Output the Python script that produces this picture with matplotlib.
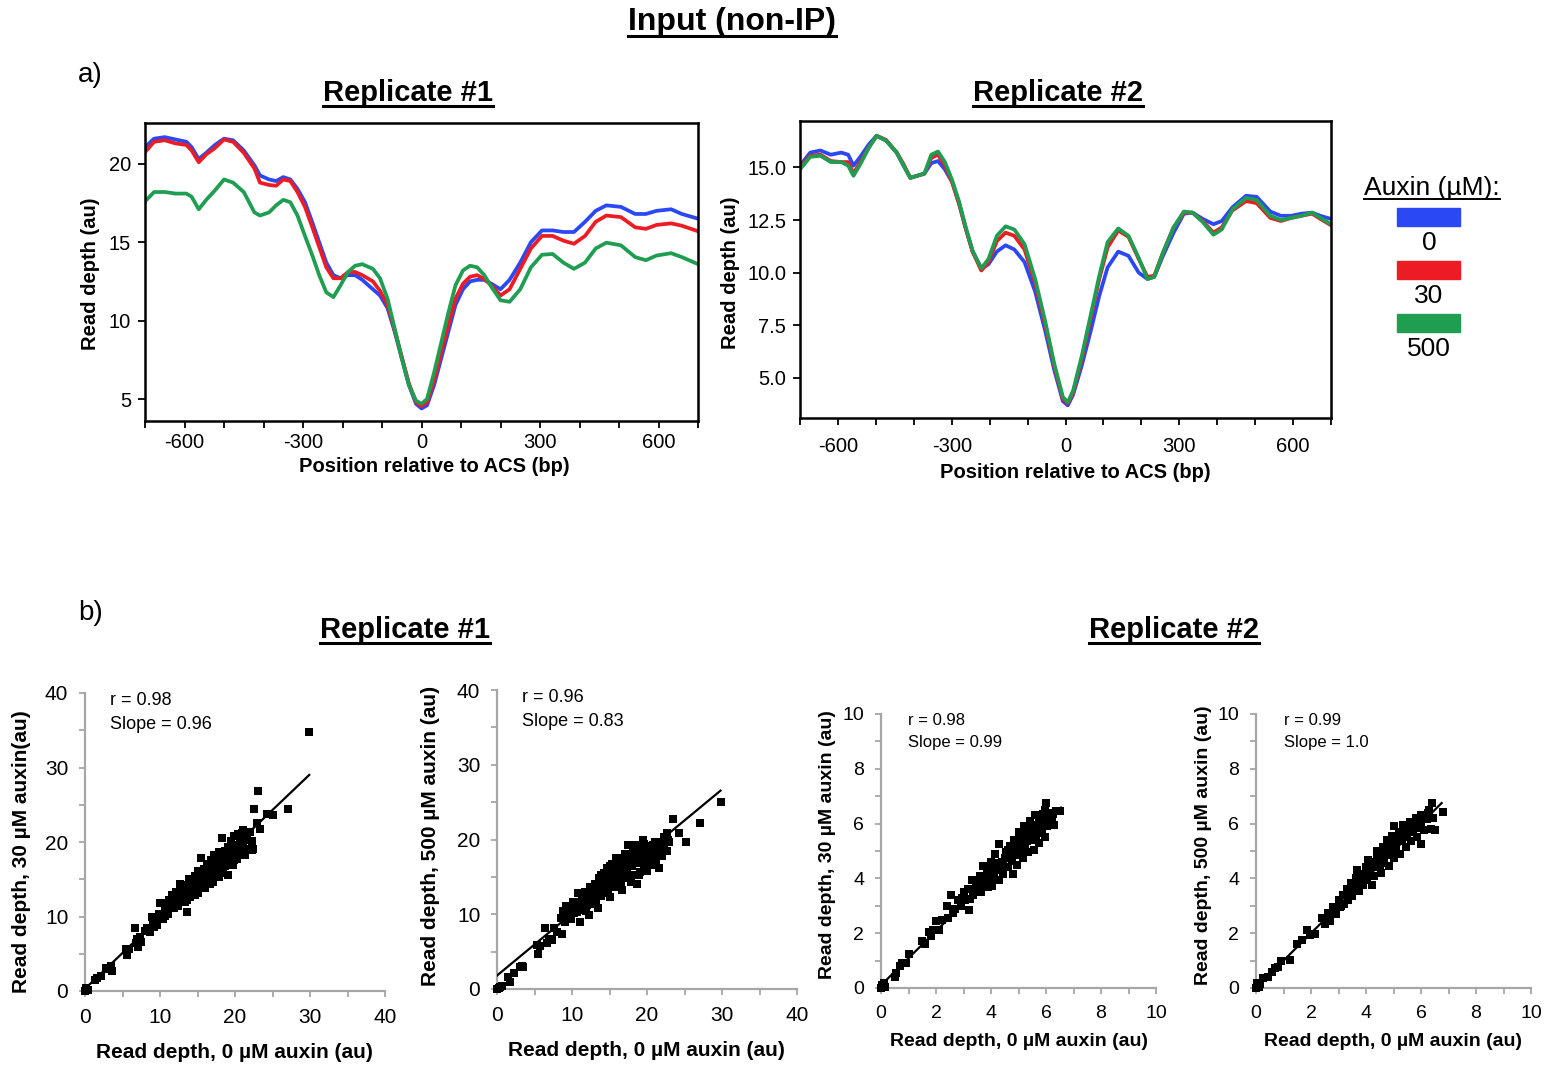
import numpy as np
import matplotlib
matplotlib.use("Agg")
import matplotlib.pyplot as plt
from matplotlib.lines import Line2D
from matplotlib.patches import Rectangle
from matplotlib.ticker import FormatStrFormatter, MultipleLocator

plt.rcParams["font.family"] = ["Liberation Sans", "DejaVu Sans"]
plt.rcParams["axes.unicode_minus"] = False

W, H = 1557, 1066

BLUE = "#2b48f5"
RED = "#ec1c24"
GREEN = "#1f9e52"
AUXIN_LEVELS = ["0", "30", "500"]

# ---- a) average input read depth around the ACS ----
REP1_POS = [-700, -677, -650, -623, -595, -582, -564, -545, -523, -500,
            -477, -450, -423, -409, -386, -368, -350, -332, -314, -295,
            -277, -259, -241, -223, -205, -186, -168, -150, -123, -105,
            -86, -68, -50, -32, -14, 0, 14, 32, 50, 68,
            86, 105, 123, 141, 159, 177, 200, 223, 250, 277,
            305, 332, 359, 386, 414, 441, 468, 505, 541, 568,
            595, 632, 659, 700]
REP1_0 = [21.06, 21.6, 21.7, 21.55, 21.4, 21.06, 20.3, 20.7, 21.2, 21.6,
          21.5, 20.85, 19.9, 19.26, 19.0, 18.9, 19.15, 19.0, 18.4, 17.55,
          16.3, 15.0, 13.7, 12.9, 12.7, 12.9, 12.9, 12.6, 12.0, 11.6,
          10.8, 9.3, 7.6, 5.9, 4.7, 4.4, 4.6, 5.9, 7.6, 9.3,
          11.0, 12.0, 12.5, 12.6, 12.6, 12.35, 12.0, 12.6, 13.7, 15.0,
          15.75, 15.75, 15.65, 15.65, 16.3, 17.0, 17.35, 17.25, 16.8, 16.8,
          17.0, 17.1, 16.8, 16.5]
REP1_30 = [20.74, 21.4, 21.5, 21.3, 21.2, 20.85, 20.1, 20.6, 21.0, 21.55,
           21.4, 20.7, 19.7, 18.8, 18.65, 18.6, 19.0, 18.9, 18.2, 17.25,
           16.0, 14.7, 13.4, 12.7, 12.7, 13.1, 13.1, 12.9, 12.5, 11.9,
           11.0, 9.4, 7.7, 6.0, 4.8, 4.55, 4.8, 6.2, 8.0, 9.7,
           11.4, 12.35, 12.8, 12.9, 12.65, 12.25, 11.6, 12.0, 13.3, 14.6,
           15.4, 15.4, 15.1, 14.9, 15.4, 16.3, 16.7, 16.6, 15.95, 15.85,
           16.1, 16.2, 16.05, 15.7]
REP1_500 = [17.6, 18.2, 18.2, 18.1, 18.1, 17.9, 17.1, 17.7, 18.3, 19.0,
            18.8, 18.2, 16.9, 16.7, 16.9, 17.35, 17.7, 17.55, 16.7, 15.4,
            14.2, 12.9, 11.8, 11.5, 12.25, 13.1, 13.5, 13.6, 13.3, 12.7,
            11.4, 9.5, 7.6, 5.9, 4.9, 4.7, 5.0, 6.7, 8.6, 10.5,
            12.25, 13.2, 13.5, 13.4, 12.9, 12.15, 11.3, 11.2, 12.0, 13.4,
            14.2, 14.25, 13.7, 13.3, 13.7, 14.6, 14.97, 14.8, 14.05, 13.85,
            14.15, 14.3, 14.05, 13.6]

REP2_POS = [-700, -673, -646, -619, -591, -573, -559, -541, -518, -498,
            -473, -445, -427, -409, -391, -372, -354, -336, -318, -299,
            -281, -263, -245, -222, -203, -181, -158, -135, -108, -80,
            -53, -30, -7, 6, 20, 43, 66, 89, 111, 139,
            166, 193, 216, 234, 257, 285, 312, 335, 362, 390,
            412, 440, 476, 504, 540, 568, 595, 622, 650, 672,
            700]
REP2_0 = [15.08, 15.7, 15.8, 15.6, 15.7, 15.6, 15.08, 15.5, 16.1, 16.5,
          16.27, 15.7, 15.08, 14.5, 14.6, 14.7, 15.2, 15.3, 14.9, 14.3,
          13.3, 12.1, 11.0, 10.2, 10.4, 11.0, 11.3, 11.1, 10.5, 9.1,
          7.2, 5.4, 3.9, 3.7, 4.2, 5.6, 7.2, 8.9, 10.25, 11.0,
          10.8, 10.0, 9.7, 9.8, 10.8, 11.9, 12.8, 12.85, 12.55, 12.3,
          12.45, 13.1, 13.65, 13.6, 12.9, 12.7, 12.7, 12.8, 12.85, 12.7,
          12.55]
REP2_30 = [15.0, 15.55, 15.6, 15.3, 15.25, 15.25, 14.7, 15.25, 15.95, 16.5,
           16.3, 15.7, 15.15, 14.5, 14.6, 14.7, 15.45, 15.6, 15.08, 14.3,
           13.3, 12.1, 11.0, 10.1, 10.5, 11.5, 11.9, 11.75, 11.1, 9.5,
           7.5, 5.6, 4.0, 3.8, 4.3, 5.9, 7.8, 9.7, 11.2, 12.0,
           11.7, 10.65, 9.8, 9.85, 10.95, 12.15, 12.85, 12.85, 12.45, 11.9,
           12.15, 12.95, 13.4, 13.3, 12.6, 12.45, 12.6, 12.7, 12.8, 12.55,
           12.25]
REP2_500 = [14.9, 15.5, 15.55, 15.25, 15.25, 15.08, 14.6, 15.15, 15.95, 16.5,
            16.27, 15.7, 15.08, 14.5, 14.6, 14.7, 15.6, 15.75, 15.25, 14.4,
            13.4, 12.15, 11.05, 10.2, 10.65, 11.75, 12.2, 12.05, 11.35, 9.7,
            7.65, 5.7, 4.1, 3.85, 4.4, 6.05, 7.95, 9.85, 11.45, 12.1,
            11.75, 10.7, 9.7, 9.8, 10.95, 12.15, 12.9, 12.85, 12.4, 11.8,
            12.05, 13.0, 13.55, 13.45, 12.7, 12.5, 12.6, 12.7, 12.85, 12.6,
            12.3]

# ---- b) per-region read depth, 0 uM vs treated ----
REP1_0_VS_30 = [
    (0.0, 0.0), (0.2, 0.2), (0.4, 0.1), (0.1, 0.4), (1.3, 1.5), (1.6, 1.8), (2.1, 2.0),
    (2.8, 3.1), (3.1, 2.9), (3.4, 3.3), (3.6, 2.7), (5.4, 5.6), (5.6, 4.8), (5.9, 5.7),
    (6.6, 8.4), (6.8, 6.4), (6.9, 7.0), (7.1, 5.9), (7.3, 7.2), (7.5, 6.6), (8.0, 8.1),
    (8.3, 8.5), (8.6, 7.9), (8.9, 9.9), (9.0, 9.0), (9.2, 8.6), (9.5, 9.5), (9.8, 10.3),
    (10.0, 11.8), (10.2, 10.0), (10.4, 9.6), (10.6, 10.8), (10.9, 11.3), (11.0, 10.3),
    (11.2, 12.2), (11.4, 11.6), (11.6, 12.9), (11.8, 11.2), (12.0, 12.4), (12.1, 13.3),
    (12.3, 11.8), (12.5, 12.7), (12.6, 14.4), (12.8, 12.1), (13.0, 13.6), (13.1, 12.8),
    (13.3, 11.9), (13.4, 14.2), (13.6, 10.6), (13.7, 13.1), (13.8, 15.0), (14.0, 12.6),
    (14.1, 13.8), (14.3, 14.6), (14.4, 12.9), (14.6, 15.4), (14.7, 13.5), (14.9, 14.2),
    (15.0, 16.1), (15.1, 13.1), (15.3, 15.0), (15.4, 14.0), (15.5, 17.8), (15.6, 15.7),
    (15.8, 14.5), (15.9, 16.4), (16.0, 13.8), (16.2, 15.2), (16.3, 17.0), (16.4, 14.7),
    (16.6, 16.0), (16.7, 15.1), (16.8, 17.6), (17.0, 16.5), (17.1, 14.6), (17.2, 18.2),
    (17.4, 15.6), (17.5, 16.9), (17.7, 17.6), (17.8, 15.3), (17.9, 18.6), (18.0, 16.3),
    (18.2, 17.3), (18.3, 20.5), (18.4, 15.8), (18.6, 18.8), (18.7, 16.8), (18.9, 17.8),
    (19.0, 19.3), (19.1, 15.6), (19.3, 17.2), (19.4, 20.1), (19.6, 18.3), (19.7, 16.9),
    (19.9, 20.8), (20.0, 19.1), (20.2, 17.7), (20.4, 21.1), (20.5, 19.6), (20.6, 18.4),
    (20.8, 20.4), (21.0, 21.6), (21.1, 19.3), (21.3, 18.2), (21.5, 20.7), (21.7, 19.0),
    (22.0, 21.4), (22.3, 18.9), (22.4, 19.0), (22.5, 24.4), (23.0, 26.9), (22.9, 22.6),
    (23.3, 21.8), (24.2, 23.7), (25.0, 23.6), (27.1, 24.4), (29.9, 34.7),
    (11.5, 11.9), (11.9, 12.0), (12.2, 12.6), (12.7, 12.2), (12.9, 13.1), (13.2, 12.5),
    (13.5, 13.4), (13.9, 13.3), (14.2, 13.4), (14.5, 14.0), (14.8, 14.6), (15.2, 14.4),
    (15.5, 15.2), (15.7, 14.6), (16.1, 15.6), (16.5, 15.6), (16.9, 16.0), (17.3, 16.3),
    (17.6, 16.1), (18.1, 17.8), (18.5, 17.0), (18.8, 18.2), (19.2, 18.6), (19.5, 17.6),
    (19.8, 19.5), (20.3, 18.9), (20.7, 19.9), (21.2, 20.3), (21.6, 21.0), (22.2, 20.2),
    (12.4, 11.4), (13.6, 12.2), (14.6, 12.9), (15.8, 15.8), (16.6, 14.3), (17.6, 17.1),
    (18.4, 18.3), (19.8, 17.6), (21.0, 18.7), (20.9, 21.2), (10.8, 11.8), (11.1, 10.9),
    (9.6, 8.9), (10.6, 10.1),
]
REP1_0_VS_500 = [
    (0.0, 0.0), (0.2, 0.1), (0.4, 0.3), (0.6, 0.4), (1.5, 1.6), (1.7, 0.9), (2.2, 2.2),
    (3.0, 2.9), (3.3, 3.1), (3.5, 2.9), (5.3, 5.9), (5.5, 4.7), (5.7, 5.7), (6.4, 8.1),
    (6.6, 6.1), (6.9, 6.7), (7.3, 6.6), (7.6, 8.1), (8.0, 7.6), (8.6, 7.3), (8.5, 9.5),
    (8.8, 10.5), (9.0, 9.0), (9.2, 11.1), (9.4, 9.8), (9.7, 10.7), (9.9, 9.4), (10.1, 11.6),
    (10.3, 10.2), (10.5, 11.0), (10.8, 12.9), (11.0, 8.9), (11.1, 10.6), (11.3, 12.3),
    (11.5, 11.2), (11.7, 13.0), (11.9, 10.5), (12.1, 12.0), (12.3, 9.9), (12.4, 13.6),
    (12.6, 11.4), (12.8, 12.6), (13.0, 14.1), (13.2, 11.8), (13.4, 13.2), (13.5, 10.8),
    (13.6, 14.8), (13.8, 12.4), (14.0, 13.7), (14.2, 15.5), (14.3, 12.9), (14.5, 14.3),
    (14.6, 16.2), (14.8, 13.3), (15.0, 15.0), (15.1, 12.3), (15.3, 16.7), (15.4, 14.0),
    (15.6, 15.6), (15.8, 17.5), (15.9, 13.6), (16.1, 16.1), (16.2, 14.6), (16.4, 17.2),
    (16.6, 15.2), (16.7, 13.2), (16.9, 16.6), (17.0, 18.1), (17.2, 14.8), (17.3, 15.9),
    (17.5, 19.3), (17.6, 17.0), (17.8, 14.3), (18.0, 16.4), (18.1, 18.4), (18.3, 15.3),
    (18.5, 17.6), (18.6, 14.0), (18.8, 16.8), (19.0, 19.0), (19.1, 15.7), (19.3, 17.9),
    (19.4, 20.0), (19.6, 16.3), (19.8, 18.5), (20.0, 15.8), (20.2, 17.3), (20.4, 19.1),
    (20.6, 16.6), (20.8, 18.0), (21.0, 19.7), (21.2, 17.1), (21.4, 18.7), (21.6, 16.2),
    (21.8, 19.4), (22.0, 17.8), (22.3, 20.3), (22.6, 18.4), (22.9, 19.6), (22.6, 20.9),
    (23.4, 22.8), (24.2, 20.9), (25.2, 19.7), (27.0, 22.2), (29.8, 25.0),
    (9.3, 10.3), (9.6, 9.6), (10.0, 10.8), (10.4, 11.3), (10.7, 10.3), (11.2, 11.7),
    (11.6, 11.9), (12.0, 11.3), (12.5, 12.4), (12.9, 13.3), (13.3, 12.6), (13.7, 13.6),
    (14.1, 14.6), (14.4, 13.7), (14.9, 14.7), (15.2, 15.8), (15.5, 14.6), (15.9, 15.4),
    (16.3, 16.5), (16.6, 15.8), (17.1, 16.9), (17.4, 15.3), (17.8, 17.7), (18.2, 17.1),
    (18.6, 18.0), (19.0, 16.9), (19.5, 18.8), (19.9, 17.4), (20.3, 18.4), (20.8, 19.2),
    (21.3, 19.6), (21.8, 18.2), (22.3, 19.0), (22.8, 20.0), (13.9, 15.3), (15.0, 16.4),
    (16.0, 17.5), (17.0, 17.4), (18.4, 19.2), (19.6, 19.4), (14.6, 13.2), (16.5, 14.2),
    (18.9, 15.2),
]
REP2_0_VS_30 = [
    (0.0, 0.0), (0.05, 0.1), (0.15, 0.05), (0.1, 0.2), (0.5, 0.4), (0.55, 0.55), (0.7, 0.8),
    (0.75, 0.9), (0.9, 0.9), (1.0, 1.25), (1.5, 1.7), (1.6, 1.6), (1.75, 2.05), (1.8, 1.9),
    (1.9, 2.1), (2.0, 2.45), (2.1, 2.1), (2.2, 2.5), (2.4, 3.0), (2.45, 2.55), (2.55, 3.4),
    (2.6, 2.75), (2.7, 2.9), (2.8, 3.2), (2.9, 3.0), (3.0, 3.5), (3.05, 3.2), (3.15, 3.6),
    (3.2, 2.85), (3.3, 3.95), (3.35, 3.4), (3.45, 3.75), (3.5, 3.55), (3.6, 4.1), (3.65, 3.5),
    (3.7, 4.45), (3.75, 3.8), (3.85, 4.2), (3.9, 3.7), (4.0, 4.6), (4.02, 3.72), (4.1, 4.0),
    (4.15, 4.9), (4.2, 4.3), (4.3, 5.25), (4.3, 3.95), (4.4, 4.6), (4.45, 4.15), (4.55, 4.95),
    (4.6, 4.4), (4.7, 5.2), (4.75, 4.65), (4.8, 4.15), (4.85, 5.4), (4.9, 4.85), (4.95, 4.5),
    (5.0, 5.7), (5.05, 5.05), (5.1, 5.5), (5.15, 4.75), (5.2, 5.9), (5.25, 5.25), (5.3, 5.6),
    (5.35, 4.95), (5.4, 6.1), (5.45, 5.4), (5.5, 5.8), (5.55, 5.05), (5.6, 6.3), (5.65, 5.55),
    (5.7, 5.95), (5.75, 5.3), (5.8, 6.0), (5.85, 5.7), (5.9, 6.35), (5.95, 5.5), (6.0, 6.75),
    (6.05, 5.9), (6.1, 6.4), (6.15, 6.1), (6.2, 6.2), (6.3, 5.95), (6.35, 6.45), (6.5, 6.45),
    (3.4, 3.6), (3.55, 3.85), (3.8, 4.0), (3.95, 4.3), (4.05, 4.15), (4.25, 4.55),
    (4.35, 4.35), (4.5, 4.75), (4.65, 4.9), (4.8, 5.0), (4.9, 5.2), (5.0, 5.3),
    (5.1, 5.2), (5.2, 5.5), (5.3, 5.35), (5.4, 5.7), (5.5, 5.55), (5.6, 5.85),
    (5.7, 5.65), (5.8, 6.1), (5.9, 5.95), (6.0, 6.1), (6.1, 6.25), (4.6, 5.05),
    (5.25, 5.75), (5.75, 6.15), (3.25, 3.25), (2.95, 3.3), (6.25, 6.35), (5.95, 6.5),
]
REP2_0_VS_500 = [
    (0.0, 0.0), (0.05, 0.1), (0.1, 0.05), (0.02, 0.17), (0.15, 0.15), (0.27, 0.35), (0.45, 0.4),
    (0.57, 0.6), (0.7, 0.72), (0.81, 0.78), (0.9, 1.0), (1.24, 1.04), (1.5, 1.6), (1.66, 1.75),
    (1.84, 2.1), (1.95, 1.95), (2.15, 1.96), (2.4, 2.55), (2.5, 2.35), (2.6, 2.75), (2.7, 2.45),
    (2.8, 2.95), (2.9, 2.7), (3.0, 3.2), (3.05, 2.95), (3.15, 3.4), (3.2, 3.05), (3.3, 3.6),
    (3.35, 3.2), (3.45, 3.85), (3.5, 3.35), (3.6, 3.7), (3.65, 4.0), (3.69, 4.29), (3.75, 3.55),
    (3.85, 4.15), (3.9, 3.75), (4.0, 4.4), (4.05, 3.95), (4.08, 4.68), (4.15, 4.2), (4.2, 3.75),
    (4.25, 4.6), (4.3, 4.1), (4.4, 5.0), (4.45, 4.4), (4.5, 4.75), (4.55, 4.2), (4.6, 5.15),
    (4.65, 4.55), (4.75, 5.4), (4.8, 4.85), (4.85, 4.45), (4.9, 5.25), (5.0, 5.9), (5.0, 4.75),
    (5.05, 5.5), (5.1, 5.05), (5.2, 5.7), (5.25, 4.9), (5.3, 5.35), (5.4, 5.85), (5.45, 5.15),
    (5.5, 5.6), (5.6, 6.05), (5.65, 5.35), (5.7, 5.8), (5.8, 6.2), (5.85, 5.5), (5.9, 6.0),
    (5.99, 5.24), (6.0, 6.3), (6.1, 5.75), (6.2, 6.15), (6.3, 6.5), (6.35, 5.8), (6.39, 6.74),
    (6.45, 6.2), (6.51, 5.77), (6.79, 6.41),
    (3.4, 3.5), (3.55, 3.6), (3.7, 3.9), (3.8, 3.95), (3.95, 4.1), (4.1, 4.35),
    (4.2, 4.5), (4.35, 4.55), (4.5, 4.5), (4.6, 4.8), (4.7, 4.9), (4.8, 5.1),
    (4.9, 5.0), (5.0, 5.25), (5.1, 5.35), (5.2, 5.45), (5.3, 5.6), (5.4, 5.5),
    (5.5, 5.8), (5.6, 5.7), (5.7, 5.95), (5.8, 5.85), (5.9, 6.15), (6.0, 6.05),
    (6.1, 6.3), (6.25, 6.4), (4.4, 4.8), (4.95, 5.55), (5.35, 5.95), (3.1, 3.0),
]

CORR_R = ["0.98", "0.96", "0.98", "0.99"]
SLOPES = ["0.96", "0.83", "0.99", "1.0"]
INTERCEPTS = [0.3, 1.8, 0.1, 0.0]
FIT_XMAX = [29.9, 29.8, 6.55, 6.75]


def frac(x, y):
    """pixel position (from top-left) -> figure fraction"""
    return x / W, 1 - y / H


def rect(x0, y0, x1, y1):
    return [x0 / W, 1 - y1 / H, (x1 - x0) / W, (y1 - y0) / H]


def ftext(x, y, s, **kw):
    fx, fy = frac(x, y)
    return fig.text(fx, fy, s, ha=kw.pop("ha", "center"), va=kw.pop("va", "center"), **kw)


def profile_axes(box, pos, series, ylim, yticks, yfmt, xpad, ypad):
    ax = fig.add_axes(rect(*box))
    for vals, col in zip(series, [BLUE, RED, GREEN]):
        ax.plot(pos, vals, color=col, lw=2.7, solid_joinstyle="round")
    ax.set_xlim(-700, 700)
    ax.set_ylim(*ylim)
    ax.set_xticks([-600, -300, 0, 300, 600])
    ax.xaxis.set_minor_locator(MultipleLocator(100))
    ax.set_yticks(yticks)
    ax.yaxis.set_major_formatter(FormatStrFormatter(yfmt))
    ax.tick_params(which="both", direction="out", length=5, width=1.3, labelsize=14.5)
    ax.tick_params(axis="x", pad=xpad)
    ax.tick_params(axis="y", pad=ypad)
    for s in ax.spines.values():
        s.set_linewidth(1.8)
    return ax


def scatter_axes(box, pts, lim, major, minor, idx, fsize, tx):
    ax = fig.add_axes(rect(*box))
    xy = np.array(pts)
    ax.scatter(xy[:, 0], xy[:, 1], s=28, marker="s", color="black", linewidths=0,
               clip_on=False, zorder=3)
    slope = float(SLOPES[idx])
    fx = np.array([0.0, FIT_XMAX[idx]])
    ax.plot(fx, slope * fx + INTERCEPTS[idx], color="black", lw=1.6, zorder=4)
    ax.set_xlim(0, lim)
    ax.set_ylim(0, lim)
    ax.xaxis.set_major_locator(MultipleLocator(major))
    ax.yaxis.set_major_locator(MultipleLocator(major))
    ax.xaxis.set_minor_locator(MultipleLocator(minor))
    ax.yaxis.set_minor_locator(MultipleLocator(minor))
    for side in ["top", "right"]:
        ax.spines[side].set_visible(False)
    for side in ["left", "bottom"]:
        ax.spines[side].set_color("#a6a6a6")
        ax.spines[side].set_linewidth(1.6)
    ax.tick_params(which="both", direction="out", length=4, width=1.3, color="#a6a6a6",
                   labelsize=fsize, pad=8)
    ax.text(tx, 0.975, "r = " + CORR_R[idx], transform=ax.transAxes,
            fontsize=fsize - 2, va="center", ha="left")
    ax.text(tx, 0.895, "Slope = " + SLOPES[idx], transform=ax.transAxes,
            fontsize=fsize - 2, va="center", ha="left")
    return ax


fig = plt.figure(figsize=(W / 100, H / 100), dpi=100)

profile_axes((145, 123, 698, 421), REP1_POS, [REP1_0, REP1_30, REP1_500],
             (3.6, 22.6), [5, 10, 15, 20], "%d", 4, 5)
profile_axes((800, 121, 1331, 418), REP2_POS, [REP2_0, REP2_30, REP2_500],
             (3.1, 17.2), [5.0, 7.5, 10.0, 12.5, 15.0], "%.1f", 9, 5)

ftext(434, 467, "Position relative to ACS (bp)", fontsize=14.5, fontweight="bold")
ftext(1075, 473, "Position relative to ACS (bp)", fontsize=14.5, fontweight="bold")
ftext(90, 274, "Read depth (au)", fontsize=14.5, fontweight="bold", rotation=90)
ftext(730, 273, "Read depth (au)", fontsize=14.5, fontweight="bold", rotation=90)

scatter_axes((85, 693, 385, 991), REP1_0_VS_30, 40, 10, 5, 0, 15, 0.083)
scatter_axes((497, 690, 797, 989), REP1_0_VS_500, 40, 10, 5, 1, 15, 0.083)
scatter_axes((881, 714, 1156, 988), REP2_0_VS_30, 10, 2, 1, 2, 14, 0.10)
scatter_axes((1256, 714, 1531, 988), REP2_0_VS_500, 10, 2, 1, 3, 14, 0.10)

ftext(234, 1053, "Read depth, 0 µM auxin (au)", fontsize=15, fontweight="bold")
ftext(646, 1050, "Read depth, 0 µM auxin (au)", fontsize=15, fontweight="bold")
ftext(1019, 1042, "Read depth, 0 µM auxin (au)", fontsize=14, fontweight="bold")
ftext(1393, 1042, "Read depth, 0 µM auxin (au)", fontsize=14, fontweight="bold")
ftext(22, 852, "Read depth, 30 µM auxin(au)", fontsize=15, fontweight="bold", rotation=90)
ftext(431, 836, "Read depth, 500 µM auxin (au)", fontsize=15, fontweight="bold", rotation=90)
ftext(827, 845, "Read depth, 30 µM auxin (au)", fontsize=14, fontweight="bold", rotation=90)
ftext(1203, 845, "Read depth, 500 µM auxin (au)", fontsize=14, fontweight="bold", rotation=90)

# headings
underlined = []
underlined.append((ftext(732, 22, "Input (non-IP)", fontsize=23, fontweight="bold"), 2.2))
for (x, y), label in zip([(408, 93), (1058, 93), (405, 630), (1174, 630)],
                         ["Replicate #1", "Replicate #2", "Replicate #1", "Replicate #2"]):
    underlined.append((ftext(x, y, label, fontsize=21, fontweight="bold"), 2.2))
ftext(78, 75, "a)", fontsize=20, ha="left")
ftext(78, 613, "b)", fontsize=20, ha="left")

# colour key
underlined.append((ftext(1432, 188, "Auxin (µM):", fontsize=19), 1.4))
for i, (lvl, col) in enumerate(zip(AUXIN_LEVELS, [BLUE, RED, GREEN])):
    y0 = 208 + i * 53
    fig.add_artist(Rectangle(frac(1397, y0 + 18), 63 / W, 18 / H, color=col,
                             transform=fig.transFigure))
    ftext(1429, y0 + 35, lvl, fontsize=19)

fig.canvas.draw()
inv = fig.transFigure.inverted()
for t, lw in underlined:
    bb = t.get_window_extent()
    (x0, y0), (x1, _) = inv.transform([(bb.x0, bb.y0 + 1.5), (bb.x1, bb.y0)])
    fig.add_artist(Line2D([x0, x1], [y0, y0], color="black", lw=lw,
                          transform=fig.transFigure))

fig.savefig("out.png", dpi=100)
